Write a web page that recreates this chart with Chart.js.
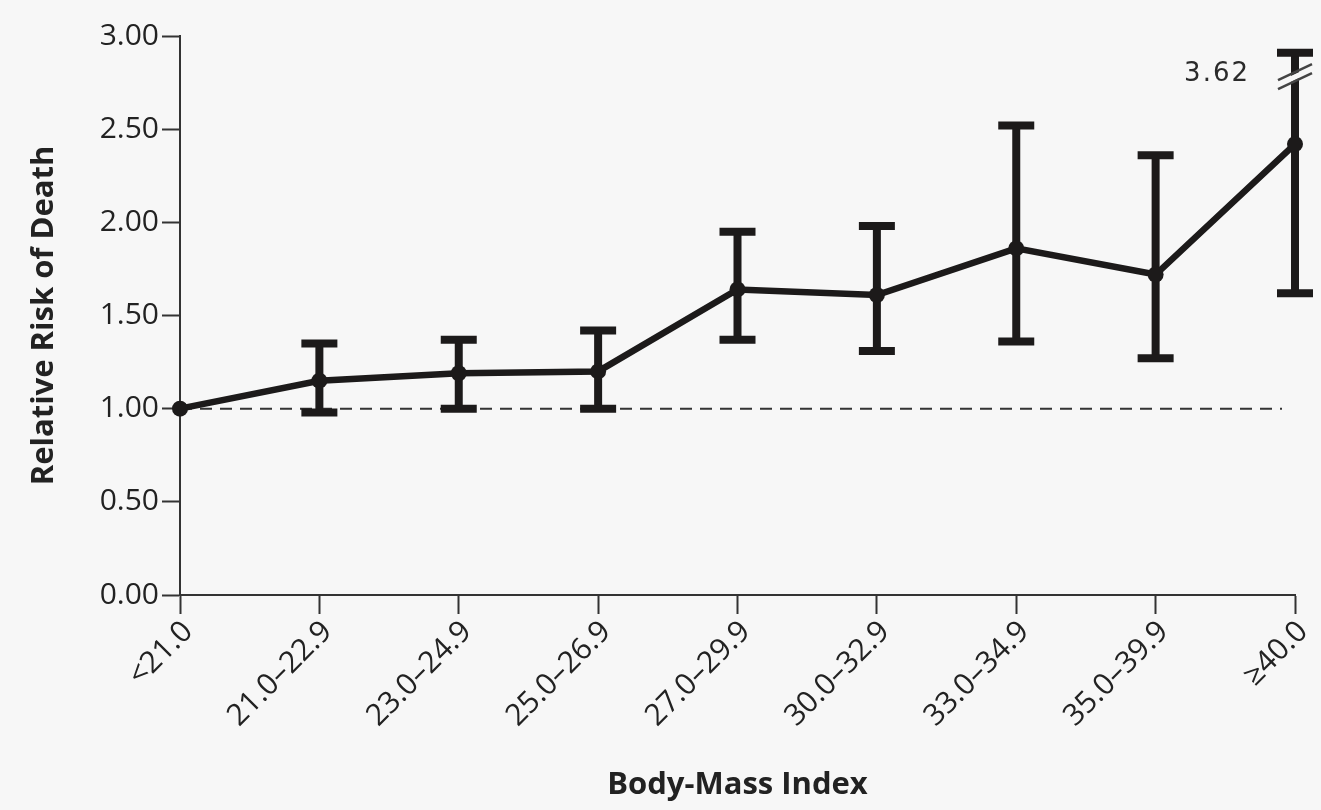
<!DOCTYPE html>
<html>
<head>
<meta charset="utf-8">
<script src="https://cdn.jsdelivr.net/npm/chart.js@4.4.1/dist/chart.umd.min.js"></script>
<style>
  html, body { margin: 0; padding: 0; background: #f7f7f7; }
  #wrap { width: 1321px; height: 810px; position: relative; }
  canvas { display: block; }
</style>
</head>
<body>
<div id="wrap"><canvas id="c" width="1321" height="810"></canvas></div>
<script>
// ---- data ----
const categories = ['<21.0', '21.0\u201322.9', '23.0\u201324.9', '25.0\u201326.9', '27.0\u201329.9', '30.0\u201332.9', '33.0\u201334.9', '35.0\u201339.9', '\u226540.0'];
const relativeRisk = [1.00, 1.15, 1.19, 1.20, 1.64, 1.61, 1.86, 1.72, 2.42];
const lowerCI = [null, 0.98, 1.00, 1.00, 1.37, 1.31, 1.36, 1.27, 1.62];
const upperCI = [null, 1.35, 1.37, 1.42, 1.95, 1.98, 2.52, 2.36, 3.62];
const yTicks = [0, 0.5, 1.0, 1.5, 2.0, 2.5, 3.0];
const referenceValue = 1.00;
const truncatedCapValue = 2.91;   // where an off-scale upper limit is drawn
const breakValue = 2.785;         // where the axis-break marks sit on a truncated bar

const INK = '#1c1a1a';
const TICK_FONT = { family: "'Open Sans', 'Noto Sans', sans-serif", size: 30 };
const TITLE_FONT = { family: "'Open Sans', 'Noto Sans', sans-serif", size: 31, weight: 'bold' };

const refLinePlugin = {
  id: 'refLine',
  beforeDatasetsDraw(chart) {
    const { ctx, chartArea, scales } = chart;
    const y = scales.y.getPixelForValue(referenceValue);
    ctx.save();
    ctx.strokeStyle = '#333';
    ctx.lineWidth = 2;
    ctx.setLineDash([12, 8]);
    ctx.beginPath();
    ctx.moveTo(chartArea.left, y);
    ctx.lineTo(chartArea.right - 13, y);
    ctx.stroke();
    ctx.restore();
  }
};

const errorBarPlugin = {
  id: 'errorBars',
  beforeDatasetsDraw(chart) {
    const { ctx, scales } = chart;
    const xS = scales.x, yS = scales.y;
    ctx.save();
    ctx.strokeStyle = INK;
    ctx.lineCap = 'butt';
    categories.forEach((c, i) => {
      if (lowerCI[i] == null || upperCI[i] == null) return;
      const x = xS.getPixelForValue(i);
      const truncated = upperCI[i] > yS.max;
      const yTop = yS.getPixelForValue(truncated ? truncatedCapValue : upperCI[i]);
      const yBot = yS.getPixelForValue(lowerCI[i]);
      ctx.lineWidth = 8;
      ctx.beginPath();
      ctx.moveTo(x, yTop); ctx.lineTo(x, yBot);
      ctx.stroke();
      ctx.lineWidth = 8;
      ctx.beginPath();
      ctx.moveTo(x - 18, yTop); ctx.lineTo(x + 18, yTop);
      ctx.moveTo(x - 18, yBot); ctx.lineTo(x + 18, yBot);
      ctx.stroke();
      if (truncated) {
        const yb = yS.getPixelForValue(breakValue);
        // gap in the bar
        ctx.fillStyle = '#f7f7f7';
        ctx.beginPath();
        ctx.moveTo(x - 17, yb + 6); ctx.lineTo(x + 17, yb - 10);
        ctx.lineTo(x + 17, yb - 4); ctx.lineTo(x - 17, yb + 12);
        ctx.closePath();
        ctx.fill();
        ctx.strokeStyle = '#444';
        ctx.lineWidth = 2.5;
        ctx.beginPath();
        ctx.moveTo(x - 17, yb + 4); ctx.lineTo(x + 17, yb - 12);
        ctx.moveTo(x - 17, yb + 13); ctx.lineTo(x + 17, yb - 3);
        ctx.stroke();
        ctx.strokeStyle = INK;
        // label of the true value
        ctx.fillStyle = '#2a2a2a';
        ctx.font = "26px 'DejaVu Sans', sans-serif";
        ctx.textAlign = 'right';
        ctx.textBaseline = 'middle';
        if ('letterSpacing' in ctx) ctx.letterSpacing = '2px';
        ctx.fillText(upperCI[i].toFixed(2), x - 45, yb - 2);
      }
    });
    ctx.restore();
  }
};

new Chart(document.getElementById('c'), {
  type: 'line',
  data: {
    labels: categories,
    datasets: [{
      data: relativeRisk,
      borderColor: INK,
      borderWidth: 6.5,
      tension: 0,
      pointStyle: 'circle',
      pointRadius: 8,
      pointBackgroundColor: INK,
      pointBorderColor: INK,
      pointBorderWidth: 0,
      clip: false
    }]
  },
  options: {
    responsive: false,
    animation: false,
    devicePixelRatio: 1,
    layout: { padding: { left: 0, right: 26, top: 36, bottom: 0 } },
    plugins: { legend: { display: false }, tooltip: { enabled: false } },
    scales: {
      x: {
        type: 'category',
        offset: false,
        border: { display: true, color: '#333', width: 2 },
        grid: { drawOnChartArea: false, drawTicks: true, tickLength: 19, tickColor: '#333', tickWidth: 2 },
        ticks: { color: '#222', font: TICK_FONT, minRotation: 45, maxRotation: 45, padding: 0, labelOffset: 8, autoSkip: false },
        title: { display: true, text: 'Body-Mass Index', color: '#222', font: TITLE_FONT, padding: { top: 0, bottom: 6 } },
        afterFit(s) { s.height = 215; }
      },
      y: {
        type: 'linear',
        min: 0,
        max: 3,
        border: { display: true, color: '#333', width: 2 },
        grid: { drawOnChartArea: false, drawTicks: true, tickLength: 18, tickColor: '#333', tickWidth: 2 },
        afterBuildTicks(s) { s.ticks = yTicks.map(v => ({ value: v })); },
        ticks: { color: '#222', font: TICK_FONT, padding: 3, callback: v => Number(v).toFixed(2) },
        title: { display: true, text: 'Relative Risk of Death', color: '#222', font: TITLE_FONT, padding: { top: 26, bottom: 0 } },
        afterFit(s) { s.width = 180; }
      }
    }
  },
  plugins: [refLinePlugin, errorBarPlugin]
});
</script>
</body>
</html>
